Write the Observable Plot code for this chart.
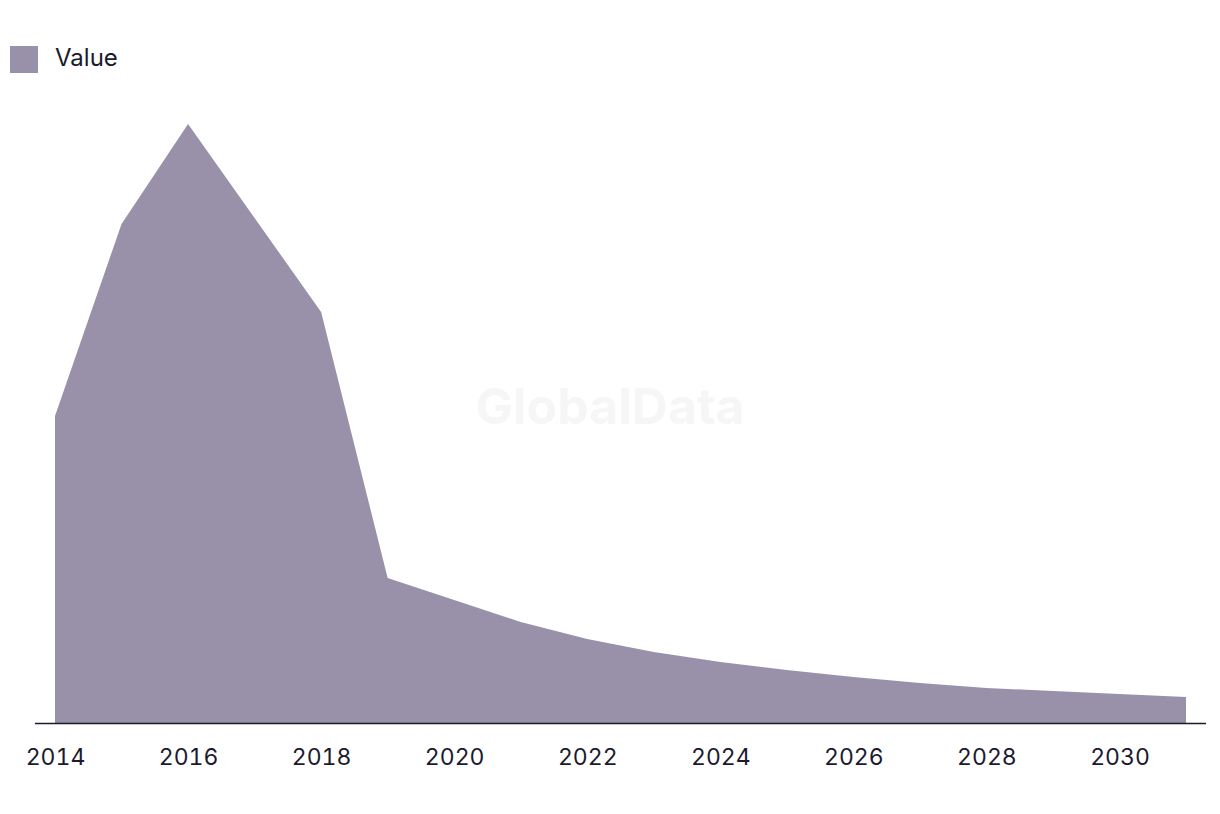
<!DOCTYPE html>
<html>
<head>
<meta charset="utf-8">
<script src="https://cdn.jsdelivr.net/npm/d3@7"></script>
<script src="https://cdn.jsdelivr.net/npm/@observablehq/plot@0.6"></script>
<style>
  html, body { margin: 0; padding: 0; background: #fff; }
  body { width: 1220px; height: 814px; overflow: hidden; font-family: Inter, "Noto Sans", sans-serif; color: #1b1a2e; position: relative; }
  .legend { height: 90px; position: relative; }
  .legend .sw { position: absolute; left: 10px; top: 46px; width: 28px; height: 27px; background: #9991a9; }
  .legend .lb { position: absolute; left: 55px; top: 42px; font-size: 24px; line-height: 32px; }
  .wm { position: absolute; left: 0; width: 1220px; top: 376px; text-align: center; font-size: 50px; font-weight: 700; color: #f6f6f6; pointer-events: none; }
</style>
</head>
<body>
<div class="legend"><div class="sw"></div><div class="lb">Value</div></div>
<div id="chart"></div>
<script>
const years = [2014,2015,2016,2017,2018,2019,2020,2021,2022,2023,2024,2025,2026,2027,2028,2029,2030,2031];
const values = [307,499,599,505,411,145,123,101,84,71,61,53,46,40,35,32,29,26];
const tickYears = [2014,2016,2018,2020,2022,2024,2026,2028,2030];

const data = years.map((y, i) => ({year: y, value: values[i]}));

const chart = Plot.plot({
  width: 1220,
  height: 724,
  marginTop: 34,
  marginBottom: 91,
  marginLeft: 35,
  marginRight: 14,
  style: {fontFamily: "Inter, 'Noto Sans', sans-serif", fontSize: "23px", color: "#1b1a2e", background: "transparent"},
  x: {domain: [2014, 2031], insetLeft: 20, insetRight: 20},
  y: {domain: [0, 599], axis: null},
  marks: [
    Plot.areaY(data, {x: "year", y: "value", fill: "#9991a9"}),
    Plot.ruleY([0], {stroke: "#1b1a2e", strokeWidth: 1.5}),
    Plot.axisX({ticks: tickYears, tickFormat: "d", tickSize: 0, tickPadding: 25, fontSize: 23, fill: "#1b1a2e", label: null})
  ]
});
document.getElementById("chart").appendChild(chart);
</script>
<div class="wm">GlobalData</div>
</body>
</html>
